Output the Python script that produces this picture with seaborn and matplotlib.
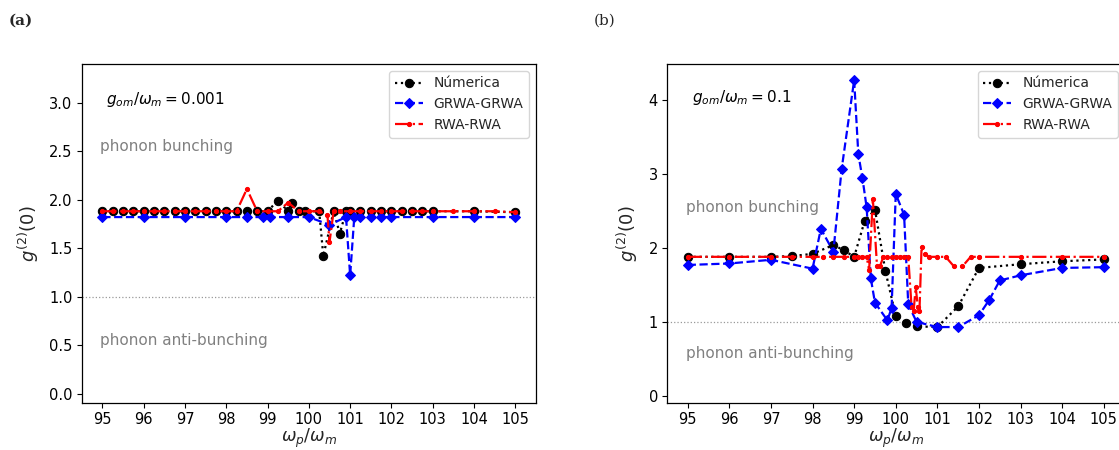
import matplotlib
matplotlib.use("Agg")
import matplotlib.pyplot as plt
import seaborn as sns

# ---------------- data: panel (a) g_om/w_m = 0.001 ----------------
num_a_x = [95.0, 95.25, 95.5, 95.75, 96.0, 96.25, 96.5, 96.75, 97.0, 97.25, 97.5, 97.75,
           98.0, 98.25, 98.5, 98.75, 99.0, 99.25, 99.5, 99.6, 99.75, 99.9, 100.25, 100.35,
           100.6, 100.75, 100.9, 101.0, 101.25, 101.5, 101.75, 102.0, 102.25, 102.5, 102.75,
           103.0, 104.0, 105.0]
num_a_y = [1.88, 1.88, 1.88, 1.88, 1.88, 1.88, 1.88, 1.88, 1.88, 1.88, 1.88, 1.88,
           1.88, 1.88, 1.88, 1.88, 1.88, 1.99, 1.88, 1.97, 1.88, 1.88, 1.88, 1.42,
           1.88, 1.65, 1.88, 1.88, 1.88, 1.88, 1.88, 1.88, 1.88, 1.88, 1.88,
           1.88, 1.88, 1.87]

grwa_a_x = [95.0, 96.0, 97.0, 98.0, 98.5, 98.9, 99.05, 99.5, 100.0, 100.5, 100.9, 101.0,
            101.1, 101.25, 101.5, 101.75, 102.0, 103.0, 104.0, 105.0]
grwa_a_y = [1.82, 1.82, 1.82, 1.82, 1.82, 1.82, 1.82, 1.82, 1.82, 1.74, 1.82, 1.22,
            1.82, 1.82, 1.82, 1.82, 1.82, 1.82, 1.82, 1.82]

rwa_a_x = [95.0, 95.25, 95.5, 95.75, 96.0, 96.25, 96.5, 96.75, 97.0, 97.25, 97.5, 97.75,
           98.0, 98.25, 98.5, 98.75, 99.0, 99.25, 99.5, 99.75, 100.0, 100.25, 100.45, 100.5,
           100.6, 100.75, 101.0, 101.25, 101.5, 101.75, 102.0, 102.25, 102.5, 102.75, 103.0,
           103.5, 104.0, 104.5, 105.0]
rwa_a_y = [1.88, 1.88, 1.88, 1.88, 1.88, 1.88, 1.88, 1.88, 1.88, 1.88, 1.88, 1.88,
           1.88, 1.88, 2.11, 1.88, 1.88, 1.88, 1.97, 1.88, 1.88, 1.88, 1.84, 1.56,
           1.88, 1.88, 1.88, 1.88, 1.88, 1.88, 1.88, 1.88, 1.88, 1.88, 1.88,
           1.88, 1.88, 1.88, 1.87]

# ---------------- data: panel (b) g_om/w_m = 0.1 ----------------
num_b_x = [95.0, 96.0, 97.0, 97.5, 98.0, 98.5, 98.75, 99.0, 99.25, 99.5, 99.75, 100.0,
           100.25, 100.5, 101.0, 101.5, 102.0, 103.0, 104.0, 105.0]
num_b_y = [1.88, 1.88, 1.88, 1.89, 1.92, 2.04, 1.97, 1.88, 2.36, 2.52, 1.69, 1.08,
           0.99, 0.94, 0.93, 1.21, 1.73, 1.78, 1.82, 1.845]

grwa_b_x = [95.0, 96.0, 97.0, 98.0, 98.2, 98.5, 98.7, 99.0, 99.1, 99.2, 99.3, 99.4, 99.5,
            99.8, 99.9, 100.0, 100.2, 100.3, 100.5, 101.0, 101.5, 102.0, 102.25, 102.5,
            103.0, 104.0, 105.0]
grwa_b_y = [1.77, 1.79, 1.84, 1.72, 2.26, 1.95, 3.07, 4.27, 3.27, 2.94, 2.55, 1.59, 1.26,
            1.02, 1.19, 2.73, 2.45, 1.24, 1.00, 0.93, 0.93, 1.09, 1.30, 1.56,
            1.63, 1.73, 1.74]

rwa_b_x = [95.0, 96.0, 97.0, 97.5, 98.0, 98.25, 98.5, 98.75, 99.0, 99.1, 99.2, 99.3,
           99.36, 99.45, 99.55, 99.62, 99.7, 99.8, 99.9, 100.0, 100.1, 100.2, 100.3,
           100.38, 100.43, 100.48, 100.53, 100.57, 100.62, 100.7, 100.8, 101.0, 101.2,
           101.4, 101.6, 101.8, 102.0, 103.0, 104.0, 105.0]
rwa_b_y = [1.88, 1.88, 1.88, 1.88, 1.88, 1.88, 1.88, 1.88, 1.88, 1.88, 1.88, 1.88,
           1.70, 2.66, 1.75, 1.75, 1.88, 1.88, 1.88, 1.88, 1.88, 1.88, 1.88,
           1.20, 1.15, 1.47, 1.20, 1.15, 2.01, 1.92, 1.88, 1.88, 1.88,
           1.75, 1.75, 1.88, 1.88, 1.88, 1.88, 1.88]

x_ticks = [95, 96, 97, 98, 99, 100, 101, 102, 103, 104, 105]
labels = ["Númerica", "GRWA-GRWA", "RWA-RWA"]
params = [r"$g_{om}/\omega_m = 0.001$", r"$g_{om}/\omega_m = 0.1$"]

sns.set_style("white")
plt.rcParams["font.family"] = ["DejaVu Sans"]
plt.rcParams["mathtext.fontset"] = "dejavusans"

fig = plt.figure(figsize=(11.19, 4.5), dpi=100)
ax_a = fig.add_axes([0.073, 0.104, 0.406, 0.754])
ax_b = fig.add_axes([0.596, 0.104, 0.409, 0.754])

panels = [
    (ax_a, num_a_x, num_a_y, grwa_a_x, grwa_a_y, rwa_a_x, rwa_a_y, params[0],
     (-0.10, 3.40), [0.0, 0.5, 1.0, 1.5, 2.0, 2.5, 3.0], "%.1f", 3.03, 2.55, 0.55),
    (ax_b, num_b_x, num_b_y, grwa_b_x, grwa_b_y, rwa_b_x, rwa_b_y, params[1],
     (-0.10, 4.49), [0, 1, 2, 3, 4], "%d", 4.03, 2.55, 0.57),
]

for (ax, nx, ny, gx, gy, rx, ry, ptxt, ylim, yt, fmt, ypar, yb, yab) in panels:
    ax.axhline(1.0, color="gray", linestyle=":", linewidth=0.9, alpha=0.8)
    sns.lineplot(x=nx, y=ny, ax=ax, color="black", linestyle=":", marker="o",
                 markersize=6, markeredgecolor="black", linewidth=1.6, label=labels[0])
    sns.lineplot(x=gx, y=gy, ax=ax, color="blue", linestyle="--", marker="D",
                 markersize=5, markeredgecolor="blue", linewidth=1.6, label=labels[1])
    sns.lineplot(x=rx, y=ry, ax=ax, color="red", linestyle="-.", marker=".",
                 markersize=6, markeredgecolor="red", linewidth=1.6, label=labels[2])
    ax.set_xlim(94.5, 105.5)
    ax.set_ylim(*ylim)
    ax.set_xticks(x_ticks)
    ax.set_yticks(yt)
    ax.set_yticklabels([fmt % v for v in yt])
    ax.tick_params(axis="both", labelsize=10.5, length=3.5, width=0.8, direction="out",
                   left=True, bottom=True, colors="black", pad=3)
    for s in ax.spines.values():
        s.set_color("black")
        s.set_linewidth(0.9)
    ax.set_xlabel(r"$\omega_p/\omega_m$", fontsize=12.5, labelpad=0)
    ax.set_ylabel(r"$g^{(2)}(0)$", fontsize=13, labelpad=6)
    ax.text(95.1, ypar, ptxt, fontsize=11, va="center", ha="left", color="black")
    ax.text(94.95, yb, "phonon bunching", fontsize=11, color="gray", va="center", ha="left")
    ax.text(94.95, yab, "phonon anti-bunching", fontsize=11, color="gray", va="center", ha="left")
    ax.legend(loc="upper right", fontsize=10, frameon=True, handlelength=2.0,
              borderaxespad=0.5)

fig.text(0.008, 0.955, "(a)", fontsize=11, fontweight="bold", family="DejaVu Serif",
         va="center", ha="left")
fig.text(0.531, 0.955, "(b)", fontsize=11, family="DejaVu Serif", va="center", ha="left")

fig.savefig("out.png", dpi=100)
